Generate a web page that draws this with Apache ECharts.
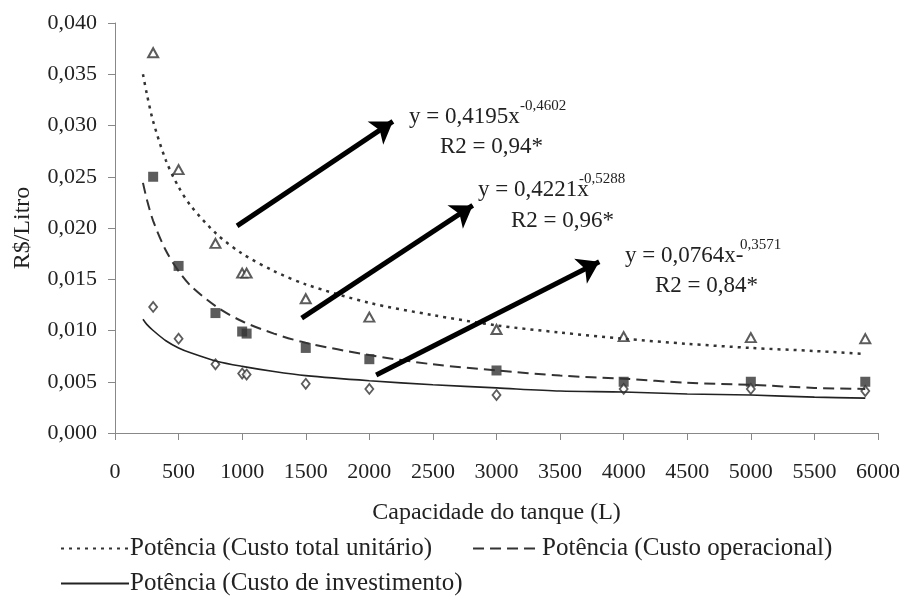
<!DOCTYPE html>
<html>
<head>
<meta charset="utf-8">
<script src="https://cdn.jsdelivr.net/npm/echarts@6/dist/echarts.min.js"></script>
<style>
html,body{margin:0;padding:0;background:#fff;}
#chart{width:903px;height:605px;}
</style>
</head>
<body>
<div id="chart"></div>
<script>
// ---- data ----
const capacity = [300, 500, 790, 1000, 1035, 1500, 2000, 3000, 4000, 5000, 5900];
const custoTotal = [0.0371, 0.0257, 0.0185, 0.0156, 0.0156, 0.0131, 0.0113, 0.0101, 0.0094, 0.0093, 0.0092];
const custoOperacional = [0.0250, 0.0163, 0.0117, 0.0099, 0.0097, 0.0083, 0.0072, 0.0061, 0.0050, 0.0050, 0.0050];
const custoInvestimento = [0.0123, 0.0092, 0.0067, 0.0058, 0.0057, 0.0048, 0.0043, 0.0037, 0.0043, 0.0043, 0.0041];

const trendX = [220, 250, 300, 400, 500, 600, 800, 1000, 1250, 1500, 2000, 2500, 3000, 3500, 4000, 4500, 5000, 5500, 5900];
const trendTotal = [0.0350, 0.0331, 0.0304, 0.0266, 0.0240, 0.0221, 0.0194, 0.0175, 0.0158, 0.0145, 0.0127, 0.0115, 0.0105, 0.0098, 0.0092, 0.0087, 0.0083, 0.0080, 0.0077];
const trendOperacional = [0.0244, 0.0228, 0.0207, 0.0178, 0.0158, 0.0143, 0.0123, 0.0109, 0.0097, 0.0088, 0.0076, 0.0067, 0.0061, 0.0056, 0.0053, 0.0049, 0.0047, 0.0044, 0.0043];
const trendInvestimento = [0.0111, 0.0106, 0.0100, 0.0090, 0.0083, 0.0078, 0.0070, 0.0065, 0.0060, 0.0056, 0.0051, 0.0047, 0.0044, 0.0041, 0.0040, 0.0038, 0.0037, 0.0035, 0.0034];

const legendNames = ['Potência (Custo total unitário)', 'Potência (Custo operacional)', 'Potência (Custo de investimento)'];
const xTicks = [0, 500, 1000, 1500, 2000, 2500, 3000, 3500, 4000, 4500, 5000, 5500, 6000];

// annotation arrows (start, tip) in data coordinates
const arrowStarts = [[960, 0.0202], [1468, 0.0112], [2054, 0.00565]];
const arrowEnds = [[2185, 0.0304], [2813, 0.0222], [3808, 0.0167]];
const equations = [
  { main: 'y = 0,4195x', sup: '-0,4602', r2: 'R2 = 0,94*' },
  { main: 'y = 0,4221x', sup: '-0,5288', r2: 'R2 = 0,96*' },
  { main: 'y = 0,0764x-', sup: '0,3571', r2: 'R2 = 0,84*' }
];
// text positions (pixels)
const eqPos = [
  { mx: 409, my: 118, sx: 520, sy: 108, rx: 440, ry: 148 },
  { mx: 478, my: 191, sx: 579, sy: 181, rx: 511, ry: 222 },
  { mx: 625, my: 257, sx: 740, sy: 247, rx: 655, ry: 287 }
];

const FONT = '"Liberation Serif", "DejaVu Serif", serif';
const TXT = '#222';
const pair = (xs, ys) => xs.map((x, i) => [x, ys[i]]);

const chart = echarts.init(document.getElementById('chart'), null, { renderer: 'canvas' });

const graphics = [];
equations.forEach((e, i) => {
  const p = eqPos[i];
  graphics.push({ type: 'text', left: p.mx, top: p.my - 13, style: { text: e.main, font: '23px ' + FONT, fill: TXT } });
  graphics.push({ type: 'text', left: p.sx, top: p.sy - 9, style: { text: e.sup, font: '15px ' + FONT, fill: TXT } });
  graphics.push({ type: 'text', left: p.rx, top: p.ry - 13, style: { text: e.r2, font: '23px ' + FONT, fill: TXT } });
});

const legendCommon = {
  orient: 'horizontal', padding: 0,
  itemWidth: 68, itemHeight: 14,
  itemStyle: { color: 'transparent', borderWidth: 0, opacity: 0 },
  textStyle: { fontFamily: FONT, fontSize: 25, color: TXT, padding: [0, 0, 0, -4] }
};

const option = {
  animation: false,
  backgroundColor: '#fff',
  grid: { left: 115, right: 24, top: 23, bottom: 172, containLabel: false },
  xAxis: {
    type: 'value', min: 0, max: 6000, interval: 500,
    name: 'Capacidade do tanque (L)', nameLocation: 'middle', nameGap: 68,
    nameTextStyle: { fontFamily: FONT, fontSize: 24, color: TXT },
    axisLine: { show: true, lineStyle: { color: '#888', width: 1 } },
    axisTick: { show: true, inside: false, length: 7, lineStyle: { color: '#888' } },
    axisLabel: { fontFamily: FONT, fontSize: 22, color: TXT, margin: 28,
      formatter: v => xTicks.includes(v) ? String(v) : '' },
    splitLine: { show: false }
  },
  yAxis: {
    type: 'value', min: 0, max: 0.04, interval: 0.005,
    name: 'R$/Litro', nameLocation: 'middle', nameGap: 80,
    nameTextStyle: { fontFamily: FONT, fontSize: 24, color: TXT },
    axisLine: { show: true, lineStyle: { color: '#888', width: 1 } },
    axisTick: { show: true, inside: false, length: 7, lineStyle: { color: '#888' } },
    axisLabel: { fontFamily: FONT, fontSize: 22, color: TXT, margin: 18,
      formatter: v => v.toFixed(3).replace('.', ',') },
    splitLine: { show: false }
  },
  legend: [
    Object.assign({ data: [legendNames[0], legendNames[1]], left: 60, top: 536, itemGap: 40 }, legendCommon),
    Object.assign({ data: [legendNames[2]], left: 60, top: 571 }, legendCommon)
  ],
  graphic: graphics,
  series: [
    {
      name: legendNames[0], type: 'line', data: pair(trendX, trendTotal),
      symbol: 'none', smooth: 0.3, silent: true,
      lineStyle: { color: '#333', width: 2.5, type: [3, 5] }, itemStyle: { color: '#333' }
    },
    {
      name: legendNames[1], type: 'line', data: pair(trendX, trendOperacional),
      symbol: 'none', smooth: 0.3, silent: true,
      lineStyle: { color: '#333', width: 2, type: [11, 6] }, itemStyle: { color: '#333' }
    },
    {
      name: legendNames[2], type: 'line', data: pair(trendX, trendInvestimento),
      symbol: 'none', smooth: 0.3, silent: true,
      lineStyle: { color: '#222', width: 1.6, type: 'solid' }, itemStyle: { color: '#222' }
    },
    {
      name: 'Custo total unitário', type: 'scatter', data: pair(capacity, custoTotal),
      symbol: 'triangle', symbolSize: [10, 9], silent: true,
      itemStyle: { color: '#fff', borderColor: '#333', borderWidth: 2 }
    },
    {
      name: 'Custo operacional', type: 'scatter', data: pair(capacity, custoOperacional),
      symbol: 'rect', symbolSize: 10, silent: true,
      itemStyle: { color: '#333', borderColor: '#333', borderWidth: 0 }
    },
    {
      name: 'Custo de investimento', type: 'scatter', data: pair(capacity, custoInvestimento),
      symbol: 'diamond', symbolSize: [8, 10], silent: true,
      itemStyle: { color: '#fff', borderColor: '#333', borderWidth: 1.8 },
      markLine: {
        silent: true, animation: false,
        symbol: ['none', 'arrow'], symbolSize: 21,
        label: { show: false },
        lineStyle: { color: '#000', width: 5, type: 'solid' },
        emphasis: { disabled: true },
        data: arrowStarts.map((s, i) => [{ coord: s }, { coord: arrowEnds[i] }])
      }
    }
  ]
};
chart.setOption(option);
</script>
</body>
</html>
